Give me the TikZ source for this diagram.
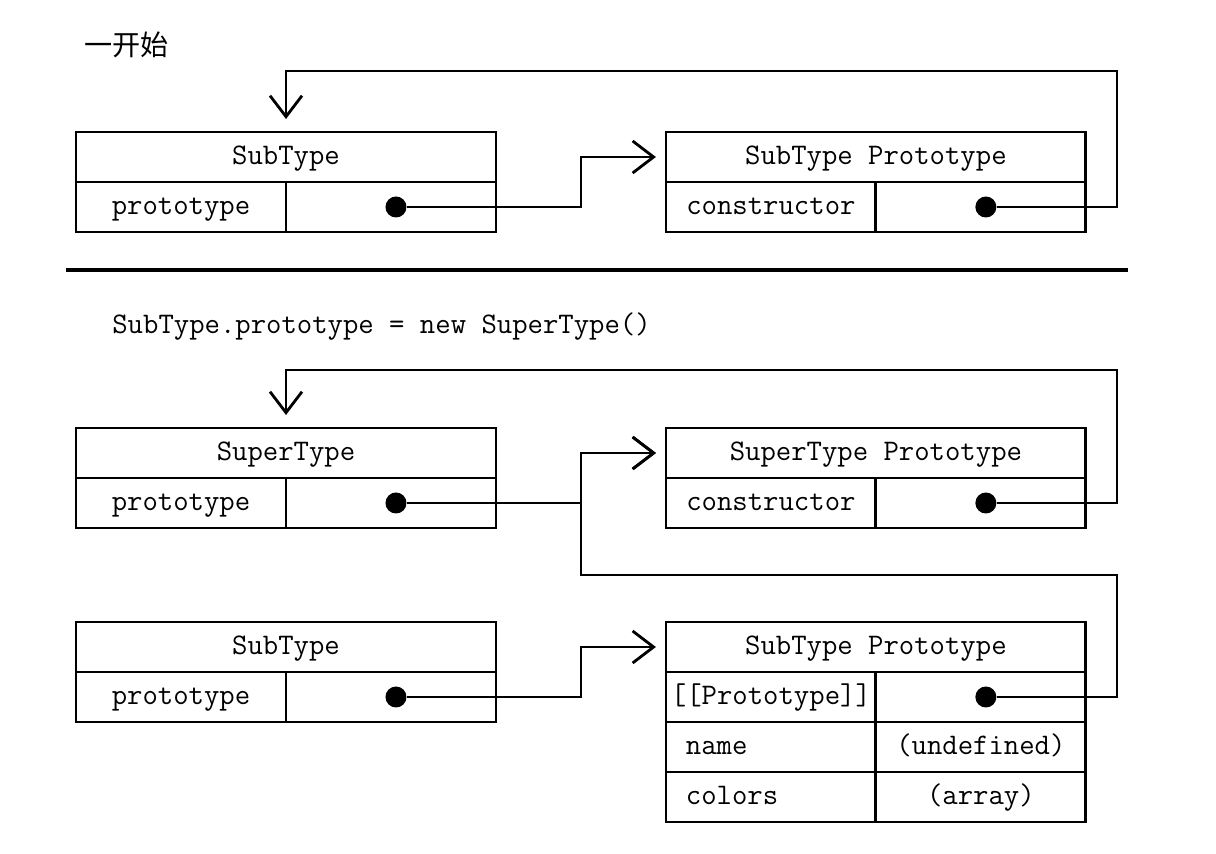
\documentclass[tikz,border=0pt]{standalone}
\usepackage{fontspec}
\newfontfamily\cjk{Noto Sans CJK SC}
\usetikzlibrary{positioning, calc, arrows.meta}

\tikzset{
  headbox/.style={draw, line width=1.6pt, minimum width=8.4cm, minimum height=1cm,
                  inner xsep=1pt, outer sep=0pt, text height=11pt, text depth=3pt,
                  font=\ttfamily\fontsize{17}{20}\selectfont},
  keycell/.style={headbox, minimum width=4.2cm},
  valcell/.style={keycell},
  leftcell/.style={keycell, text width=3.4cm, align=left, inner xsep=0.4cm},
  refdot/.style={circle, fill, inner sep=0pt, minimum size=0.42cm},
  ptr/.style={line width=1.6pt, shorten >=0.2cm,
              -{Straight Barb[length=0.42cm, width=0.64cm, line width=1.6pt]}},
}

\begin{document}
\begin{tikzpicture}[x=0.02cm, y=-0.02cm, node distance=3.4cm]
\useasboundingbox (0,0) rectangle (1216,854);

\node[font=\cjk\fontsize{16}{18}\selectfont, anchor=west, inner sep=0pt] (title) at (84,45) {一开始};

% before
\node[headbox] (subA) at (286,157) {SubType};
\node[keycell, below right=0pt and 0pt of subA.south west] (subAkey) {prototype};
\node[valcell, right=0pt of subAkey] (subAval) {};
\node[refdot, xshift=0.1cm] (subAdot) at (subAval) {};

\node[headbox, right=of subA] (protoA) {SubType Prototype};
\node[keycell, below right=0pt and 0pt of protoA.south west] (protoAkey) {constructor};
\node[valcell, right=0pt of protoAkey] (protoAval) {};
\node[refdot, xshift=0.1cm] (protoAdot) at (protoAval) {};

\coordinate (loopA) at (1117,71);
\draw[ptr] (subAdot) -| ($(protoA.west)+(-85,0)$) -- (protoA.west);
\draw[ptr, shorten >=0.26cm] (protoAdot) -| (loopA) -| (subAkey.east |- subA.north);

\draw[line width=2.2pt] (66,270) -- (1128,270);

% after
\node[anchor=west, inner sep=0pt, font=\ttfamily\fontsize{17}{20}\selectfont] (code) at (112,327)
  {SubType.prototype = new SuperType()};

\node[headbox] (superB) at (286,453) {SuperType};
\node[keycell, below right=0pt and 0pt of superB.south west] (superBkey) {prototype};
\node[valcell, right=0pt of superBkey] (superBval) {};
\node[refdot, xshift=0.1cm] (superBdot) at (superBval) {};

\node[headbox, right=of superB] (sprotoB) {SuperType Prototype};
\node[keycell, below right=0pt and 0pt of sprotoB.south west] (sprotoBkey) {constructor};
\node[valcell, right=0pt of sprotoBkey] (sprotoBval) {};
\node[refdot, xshift=0.1cm] (sprotoBdot) at (sprotoBval) {};

\node[headbox] (subC) at (286,647) {SubType};
\node[keycell, below right=0pt and 0pt of subC.south west] (subCkey) {prototype};
\node[valcell, right=0pt of subCkey] (subCval) {};
\node[refdot, xshift=0.1cm] (subCdot) at (subCval) {};

\node[headbox, right=of subC] (protoC) {SubType Prototype};
\node[keycell, below right=0pt and 0pt of protoC.south west] (protoCkey) {[[Prototype]]};
\node[valcell, right=0pt of protoCkey] (protoCval) {};
\node[refdot, xshift=0.1cm] (protoCdot) at (protoCval) {};
\node[leftcell, below=0pt of protoCkey] (nameKey) {name};
\node[valcell, right=0pt of nameKey] (nameVal) {(undefined)};
\node[leftcell, below=0pt of nameKey] (colorsKey) {colors};
\node[valcell, right=0pt of colorsKey] (colorsVal) {(array)};

\coordinate (loopB) at (1117,370);
\coordinate (jR) at (1117,575);
\coordinate (jL) at (581,575);
\draw[ptr, line width=1.2pt] (superBdot) -| ($(sprotoB.west)+(-85,0)$) -- (sprotoB.west);
\draw[ptr, shorten >=0.26cm] (sprotoBdot) -| (loopB) -| (superBkey.east |- superB.north);
\draw[ptr] (protoCdot) -| (jR) -- (jL) |- (sprotoB.west);
\draw[ptr] (subCdot) -| ($(protoC.west)+(-85,0)$) -- (protoC.west);
\end{tikzpicture}
\end{document}
